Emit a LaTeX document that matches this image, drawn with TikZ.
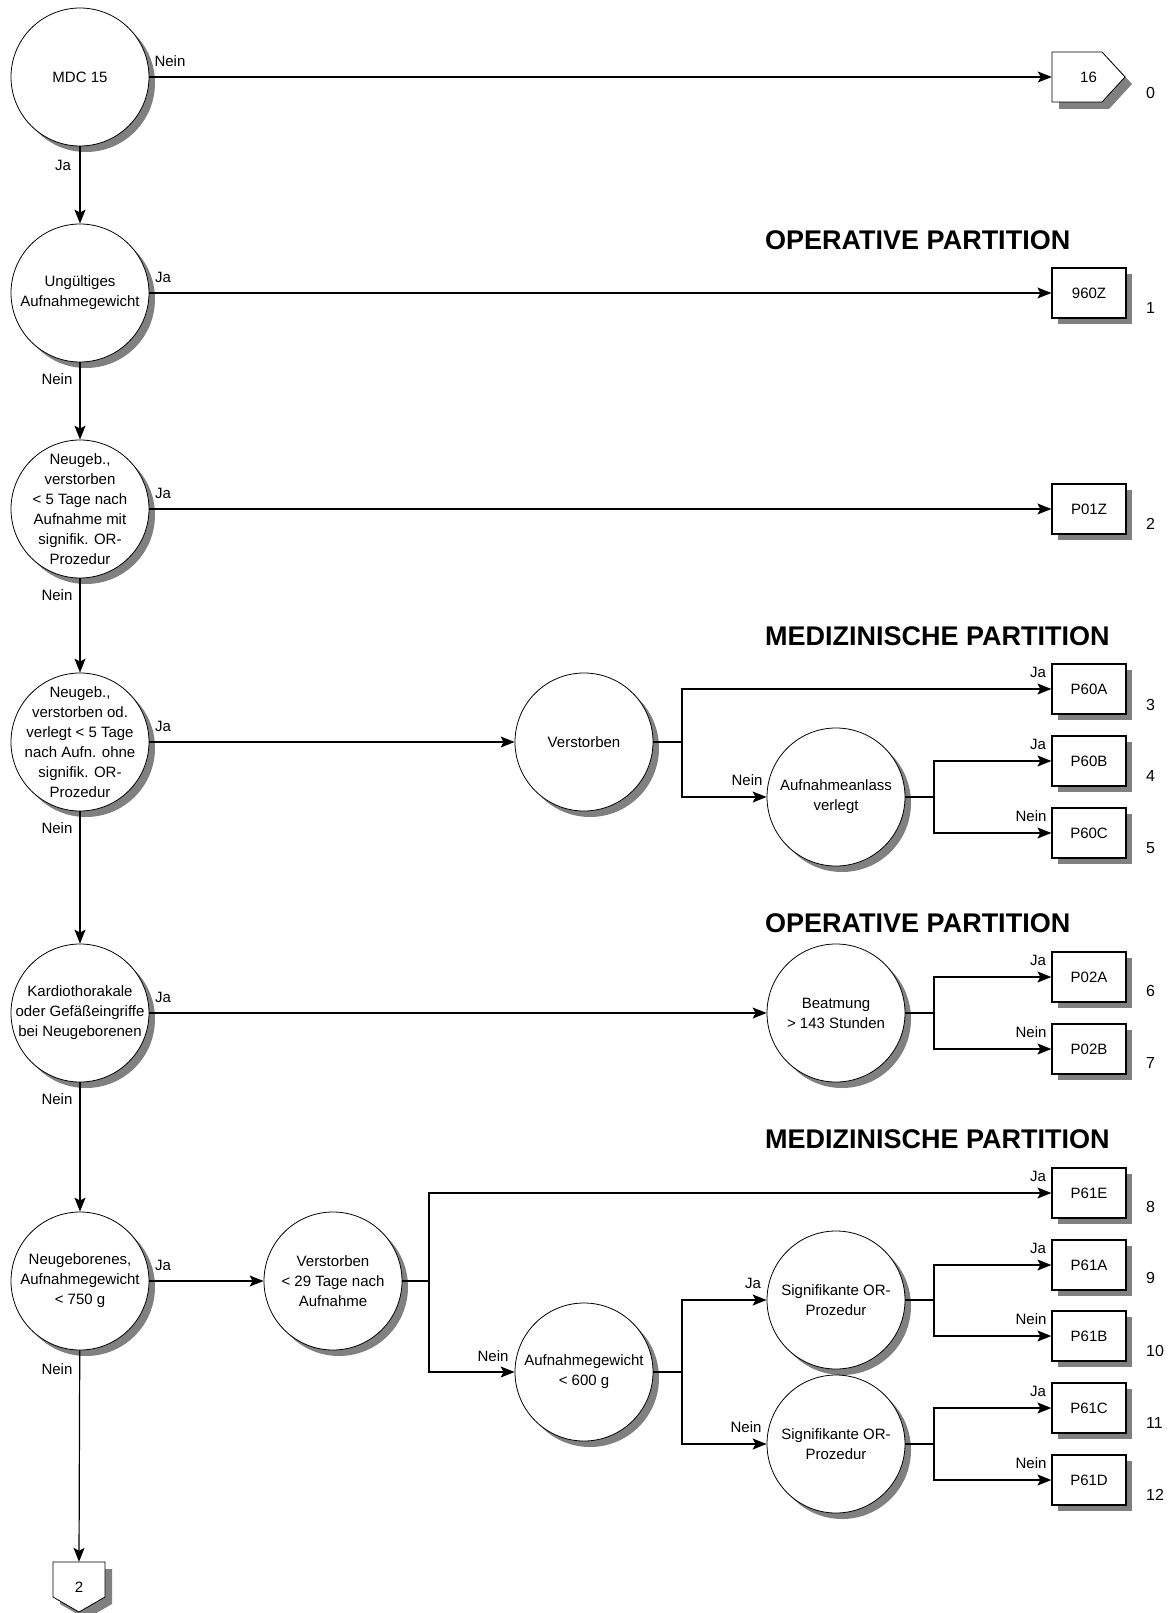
\documentclass[tikz,border=0pt]{standalone}
\usepackage{fontspec}
\setmainfont{Liberation Sans}
\usetikzlibrary{arrows.meta,shadows}
\begin{document}
\begin{tikzpicture}[x=1pt,y=-1pt,
  every node/.style={font=\fontsize{15}{20}\selectfont},
  shd/.style={drop shadow={shadow xshift=6pt,shadow yshift=-6pt,fill=black!50,opacity=1}},
  dec/.style={circle, draw, line width=0.8pt, fill=white, minimum size=138pt, inner sep=0pt, shd},
  ctext/.style={align=center, inner sep=0pt},
  leaf/.style={rectangle, draw, line width=1.2pt, fill=white, minimum width=74pt, minimum height=50pt, inner sep=0pt, shd},
  conn/.style={line width=1.2pt},
  arr/.style={conn, -{Stealth[length=14pt,width=11pt,inset=3pt]}},
  lbl/.style={inner sep=0pt},
  num/.style={anchor=west, inner sep=0pt, font=\fontsize{16}{20}\selectfont},
  head/.style={anchor=west, inner sep=0pt, font=\fontsize{27}{32}\bfseries\selectfont}]
\useasboundingbox (0,0) rectangle (1169,1613);

% headings
\node[head] (h1) at (765,240) {OPERATIVE PARTITION};
\node[head] (h2) at (765,636) {MEDIZINISCHE PARTITION};
\node[head] (h3) at (765,923) {OPERATIVE PARTITION};
\node[head] (h4) at (765,1139) {MEDIZINISCHE PARTITION};

% left column
\node[dec, label={[ctext]center:{MDC 15}}] (c0) at (80,77) {};
\node[dec, label={[ctext]center:{Ungültiges\\Aufnahmegewicht}}] (c1) at (80,293) {};
\node[dec, label={[ctext]center:{Neugeb.,\\verstorben\\< 5 Tage nach\\Aufnahme mit\\signifik. OR-\\Prozedur}}] (c2) at (80,509) {};
\node[dec, label={[ctext]center:{Neugeb.,\\verstorben od.\\verlegt < 5 Tage\\nach Aufn. ohne\\signifik. OR-\\Prozedur}}] (c3) at (80,742) {};
\node[dec, label={[ctext]center:{Kardiothorakale\\oder Gefäßeingriffe\\bei Neugeborenen}}] (c4) at (80,1013) {};
\node[dec, label={[ctext]center:{Neugeborenes,\\Aufnahmegewicht\\< 750 g}}] (c5) at (80,1281) {};

% off-page connectors
\fill[black!50] (1059,59) -- (1109,59) -- (1132,84) -- (1109,109) -- (1059,109) -- cycle;
\draw[line width=0.8pt, fill=white] (1052,52) -- (1102,52) -- (1125,77) -- (1102,102) -- (1052,102) -- cycle;
\node[inner sep=0pt, minimum width=73pt, minimum height=50pt] (p16) at (1088.5,77) {16};

\fill[black!50] (60,1569) -- (112,1569) -- (112,1604) -- (86,1619) -- (60,1604) -- cycle;
\draw[line width=0.8pt, fill=white] (53,1562) -- (105,1562) -- (105,1597) -- (79,1612) -- (53,1597) -- cycle;
\node[inner sep=0pt, minimum width=52pt, minimum height=50pt] (p2) at (79,1587) {2};

% right-side decision nodes
\node[dec, label={[ctext]center:{Verstorben}}] (v1) at (584,742) {};
\node[dec, label={[ctext]center:{Aufnahmeanlass\\verlegt}}] (a1) at (836,797) {};
\node[dec, label={[ctext]center:{Beatmung\\> 143 Stunden}}] (b1) at (836,1013) {};
\node[dec, label={[ctext]center:{Verstorben\\< 29 Tage nach\\Aufnahme}}] (v2) at (333,1281) {};
\node[dec, label={[ctext]center:{Aufnahmegewicht\\< 600 g}}] (g1) at (584,1372) {};
\node[dec, label={[ctext]center:{Signifikante OR-\\Prozedur}}] (s1) at (836,1300) {};
\node[dec, label={[ctext]center:{Signifikante OR-\\Prozedur}}] (s2) at (836,1444) {};

% leaves
\node[leaf] (l960) at (1089,293) {960Z};
\node[leaf] (lP01Z) at (1089,509) {P01Z};
\node[leaf] (lP60A) at (1089,689) {P60A};
\node[leaf] (lP60B) at (1089,761) {P60B};
\node[leaf] (lP60C) at (1089,833) {P60C};
\node[leaf] (lP02A) at (1089,977) {P02A};
\node[leaf] (lP02B) at (1089,1049) {P02B};
\node[leaf] (lP61E) at (1089,1193) {P61E};
\node[leaf] (lP61A) at (1089,1265) {P61A};
\node[leaf] (lP61B) at (1089,1336) {P61B};
\node[leaf] (lP61C) at (1089,1408) {P61C};
\node[leaf] (lP61D) at (1089,1480) {P61D};

% row numbers
\node[num] (n0) at (1146,93) {0};
\node[num] (n1) at (1146,308) {1};
\node[num] (n2) at (1146,524) {2};
\node[num] (n3) at (1146,705) {3};
\node[num] (n4) at (1146,776) {4};
\node[num] (n5) at (1146,848) {5};
\node[num] (n6) at (1146,991) {6};
\node[num] (n7) at (1146,1063) {7};
\node[num] (n8) at (1146,1207) {8};
\node[num] (n9) at (1146,1278) {9};
\node[num] (n10) at (1146,1351) {10};
\node[num] (n11) at (1146,1423) {11};
\node[num] (n12) at (1146,1495) {12};

% junction points
\coordinate (j1) at (682,742);
\coordinate (j2) at (934,797);
\coordinate (j3) at (934,1013);
\coordinate (j4) at (429,1281);
\coordinate (j5) at (682,1372);
\coordinate (j6) at (934,1300);
\coordinate (j7) at (934,1444);

% main column connectors
\draw[arr] (c0) -- (c1);
\draw[arr] (c1) -- (c2);
\draw[arr] (c2) -- (c3);
\draw[arr] (c3) -- (c4);
\draw[arr] (c4) -- (c5);
\draw[arr] (c5) -- (p2.north);

\draw[arr] (c0.east) -- (p16.west);
\draw[arr] (c1.east) -- (l960.west);
\draw[arr] (c2.east) -- (lP01Z.west);
\draw[arr] (c3.east) -- (v1.west);
\draw[arr] (c4.east) -- (b1.west);
\draw[arr] (c5.east) -- (v2.west);

% branches
\draw[conn] (v1.east) -- (j1);
\draw[arr] (j1) |- (lP60A.west);
\draw[arr] (j1) |- (a1.west);
\draw[conn] (a1.east) -- (j2);
\draw[arr] (j2) |- (lP60B.west);
\draw[arr] (j2) |- (lP60C.west);
\draw[conn] (b1.east) -- (j3);
\draw[arr] (j3) |- (lP02A.west);
\draw[arr] (j3) |- (lP02B.west);
\draw[conn] (v2.east) -- (j4);
\draw[arr] (j4) |- (lP61E.west);
\draw[arr] (j4) |- (g1.west);
\draw[conn] (g1.east) -- (j5);
\draw[arr] (j5) |- (s1.west);
\draw[arr] (j5) |- (s2.west);
\draw[conn] (s1.east) -- (j6);
\draw[arr] (j6) |- (lP61A.west);
\draw[arr] (j6) |- (lP61B.west);
\draw[conn] (s2.east) -- (j7);
\draw[arr] (j7) |- (lP61C.west);
\draw[arr] (j7) |- (lP61D.west);

% edge labels
\node[lbl] (t0n) at (170,61) {Nein};
\node[lbl] (t0j) at (63,165) {Ja};
\node[lbl] (t1j) at (163,277) {Ja};
\node[lbl] (t1n) at (57,379) {Nein};
\node[lbl] (t2j) at (163,493) {Ja};
\node[lbl] (t2n) at (57,595) {Nein};
\node[lbl] (t3j) at (163,726) {Ja};
\node[lbl] (t3n) at (57,828) {Nein};
\node[lbl] (t4j) at (163,997) {Ja};
\node[lbl] (t4n) at (57,1099) {Nein};
\node[lbl] (t5j) at (163,1265) {Ja};
\node[lbl] (t5n) at (57,1369) {Nein};

\node[lbl] (ta1) at (747,780) {Nein};
\node[lbl] (tg1) at (493,1356) {Nein};
\node[lbl] (ts1) at (753,1283) {Ja};
\node[lbl] (ts2) at (746,1427) {Nein};

\node[lbl] (tP60A) at (1038,672) {Ja};
\node[lbl] (tP60B) at (1038,744) {Ja};
\node[lbl] (tP60C) at (1031,816) {Nein};
\node[lbl] (tP02A) at (1038,960) {Ja};
\node[lbl] (tP02B) at (1031,1032) {Nein};
\node[lbl] (tP61E) at (1038,1176) {Ja};
\node[lbl] (tP61A) at (1038,1248) {Ja};
\node[lbl] (tP61B) at (1031,1319) {Nein};
\node[lbl] (tP61C) at (1038,1391) {Ja};
\node[lbl] (tP61D) at (1031,1463) {Nein};
\end{tikzpicture}
\end{document}
